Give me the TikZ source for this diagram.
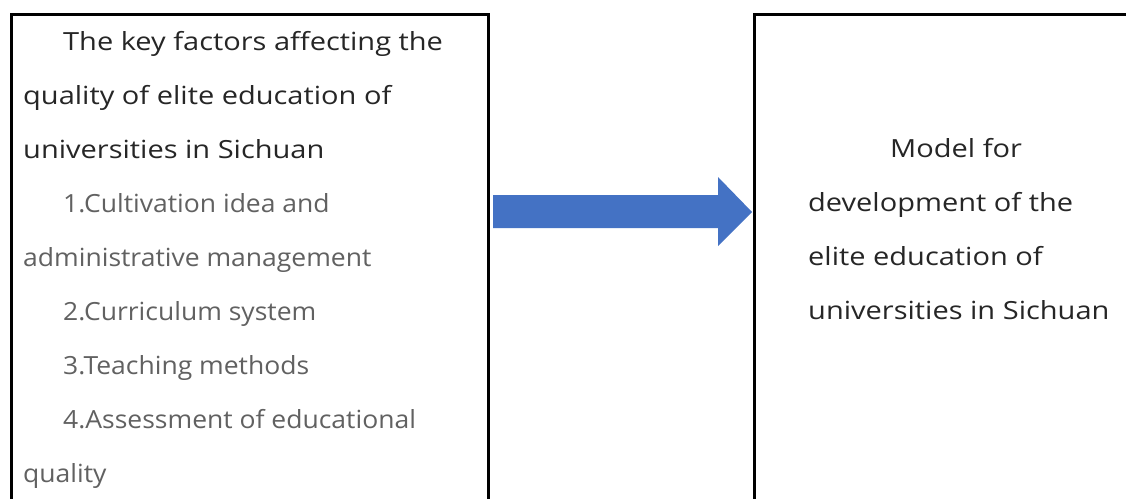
\documentclass[tikz,border=0pt]{standalone}
\usepackage{fontspec}
\setmainfont[FakeStretch=1.16]{Open Sans}
\newfontfamily\itemfont[FakeStretch=1.06]{Open Sans}
\definecolor{arrowblue}{HTML}{4472C4}
\tikzset{
  frame/.style={draw=black, line width=3pt},
  head/.style={anchor=base west, inner sep=0pt, text=black!85, font=\fontsize{25}{29}\selectfont},
  item/.style={anchor=base west, inner sep=0pt, text=black!62, font=\itemfont\fontsize{25}{29}\selectfont},
}
\begin{document}
\begin{tikzpicture}[x=1pt,y=-1pt]
\useasboundingbox (0,0) rectangle (1126,498);
\clip (0,0) rectangle (1126,498);
\fill[white] (0,0) rectangle (1126,498);
% boxes
\node[frame, minimum width=477pt, minimum height=520pt, anchor=north west, inner sep=0pt] (left) at (10,13) {};
\node[frame, minimum width=420pt, minimum height=520pt, anchor=north west, inner sep=0pt] (right) at (753,13) {};
% left text
\node[head] (l1) at (63,50) {The key factors affecting the};
\node[head] (l2) at (23,104) {quality of elite education of};
\node[head] (l3) at (23,158) {universities in Sichuan};
\node[item] (l4) at (63,212) {1.Cultivation idea and};
\node[item] (l5) at (23,266) {administrative management};
\node[item] (l6) at (63,320) {2.Curriculum system};
\node[item] (l7) at (63,374) {3.Teaching methods};
\node[item] (l8) at (63,428) {4.Assessment of educational};
\node[item] (l9) at (23,482) {quality};
% right text
\node[head] (r1) at (890,157) {Model for};
\node[head] (r2) at (808,211) {development of the};
\node[head] (r3) at (808,265) {elite education of};
\node[head] (r4) at (808,319) {universities in Sichuan};
% block arrow
\fill[arrowblue] (493,195) -- (718,195) -- (718,177) -- (752,212) -- (718,246) -- (718,228) -- (493,228) -- cycle;
\end{tikzpicture}
\end{document}
